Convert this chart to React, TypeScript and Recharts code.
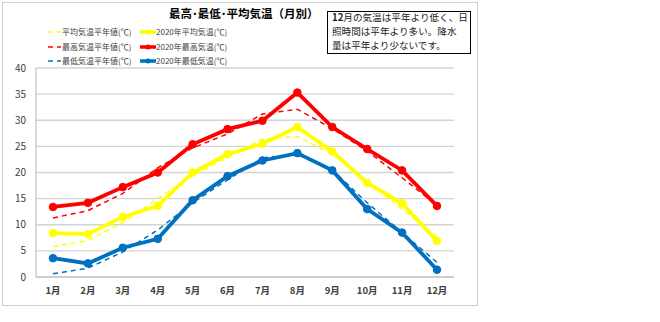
import React from 'react';
import { LineChart, Line, XAxis, YAxis, CartesianGrid } from 'recharts';

const months = ['1月', '2月', '3月', '4月', '5月', '6月', '7月', '8月', '9月', '10月', '11月', '12月'];
const avgNormal = [5.8, 7.0, 10.4, 15.0, 19.4, 22.9, 26.4, 26.9, 23.5, 18.3, 13.0, 7.7];
const avg2020 = [8.4, 8.2, 11.5, 13.6, 20.0, 23.5, 25.5, 28.7, 24.0, 18.0, 14.1, 6.9];
const maxNormal = [11.3, 12.7, 16.0, 20.9, 24.7, 27.4, 31.2, 32.1, 28.4, 24.1, 19.0, 13.7];
const max2020 = [13.4, 14.2, 17.2, 20.0, 25.4, 28.3, 29.9, 35.3, 28.7, 24.5, 20.4, 13.6];
const minNormal = [0.6, 1.7, 4.8, 9.0, 14.2, 18.6, 22.8, 23.4, 20.5, 14.2, 8.5, 2.8];
const min2020 = [3.6, 2.6, 5.6, 7.3, 14.7, 19.3, 22.3, 23.7, 20.4, 13.0, 8.5, 1.4];
const yTicks = [0, 5, 10, 15, 20, 25, 30, 35, 40];

const YELLOW = '#FFFF00';
const RED = '#FF0000';
const BLUE = '#0070C0';

const data = months.map((m, i) => ({
  month: m,
  avgNormal: avgNormal[i],
  avg2020: avg2020[i],
  maxNormal: maxNormal[i],
  max2020: max2020[i],
  minNormal: minNormal[i],
  min2020: min2020[i],
}));

const legendRows = [
  { color: YELLOW, normal: '平均気温平年値(℃)', actual: '2020年平均気温(℃)' },
  { color: RED, normal: '最高気温平年値(℃)', actual: '2020年最高気温(℃)' },
  { color: BLUE, normal: '最低気温平年値(℃)', actual: '2020年最低気温(℃)' },
];

const FONT = '"Noto Sans CJK JP", "Noto Sans", sans-serif';

export default function App() {
  return (
    <div style={{ position: 'absolute', left: 0, top: 0, width: 660, height: 322, background: '#fff', fontFamily: FONT }}>
      <div style={{ position: 'absolute', left: 2, top: 2, width: 474, height: 302, border: '1px solid #d0d0d0' }} />
      <LineChart width={660} height={322} data={data} margin={{ top: 68, right: 206, bottom: 15, left: 0 }}>
        <CartesianGrid horizontal={true} vertical={false} stroke="#d4d4d4" strokeWidth={1.3} />
        <XAxis
          dataKey="month"
          height={30}
          padding={{ left: 17, right: 17 }}
          axisLine={{ stroke: '#c8c8c8', strokeWidth: 1.3 }}
          tickLine={false}
          tickSize={6}
          tickMargin={4}
          tick={{ fontSize: 9.5, fill: '#404040', fontWeight: 'bold', fontFamily: FONT }}
          interval={0}
        />
        <YAxis
          width={36}
          domain={[0, 40]}
          ticks={yTicks}
          axisLine={{ stroke: '#c8c8c8', strokeWidth: 1.3 }}
          tickLine={false}
          tickSize={6}
          tickMargin={4}
          tick={{ fontSize: 10, fill: '#404040', fontFamily: FONT }}
        />
        <Line dataKey="avgNormal" stroke={YELLOW} strokeWidth={1.5} strokeDasharray="5 4" dot={false} isAnimationActive={false} />
        <Line dataKey="maxNormal" stroke={RED} strokeWidth={1.5} strokeDasharray="5 4" dot={false} isAnimationActive={false} />
        <Line dataKey="minNormal" stroke={BLUE} strokeWidth={1.5} strokeDasharray="5 4" dot={false} isAnimationActive={false} />
        <Line dataKey="avg2020" stroke={YELLOW} strokeWidth={3.8} dot={{ r: 3.8, fill: YELLOW, stroke: YELLOW, strokeWidth: 1 }} isAnimationActive={false} />
        <Line dataKey="max2020" stroke={RED} strokeWidth={3.8} dot={{ r: 3.8, fill: RED, stroke: RED, strokeWidth: 1 }} isAnimationActive={false} />
        <Line dataKey="min2020" stroke={BLUE} strokeWidth={3.8} dot={{ r: 3.8, fill: BLUE, stroke: BLUE, strokeWidth: 1 }} isAnimationActive={false} />
      </LineChart>
      <div style={{ position: 'absolute', left: 169, top: 5, fontSize: 11.5, fontWeight: 'bold', color: '#000', whiteSpace: 'nowrap' }}>
        最高･最低･平均気温（月別）
      </div>
      {legendRows.map((r, i) => (
        <React.Fragment key={i}>
          <svg style={{ position: 'absolute', left: 46, top: 27 + i * 14.5 }} width={16} height={10}>
            <line x1={2} y1={5} x2={15} y2={5} stroke={r.color} strokeWidth={1.5} strokeDasharray="5 4" />
          </svg>
          <div style={{ position: 'absolute', left: 62, top: 25 + i * 14.5, fontSize: 8, color: '#404040', whiteSpace: 'nowrap', lineHeight: '14px' }}>{r.normal}</div>
          <svg style={{ position: 'absolute', left: 139, top: 27 + i * 14.5 }} width={18} height={10}>
            <line x1={1} y1={5} x2={17} y2={5} stroke={r.color} strokeWidth={3.5} />
            <circle cx={9} cy={5} r={2.5} fill={r.color} />
          </svg>
          <div style={{ position: 'absolute', left: 156, top: 25 + i * 14.5, fontSize: 8, color: '#404040', whiteSpace: 'nowrap', lineHeight: '14px' }}>{r.actual}</div>
        </React.Fragment>
      ))}
      <div style={{ position: 'absolute', left: 327, top: 11, width: 138, height: 41, border: '1.5px solid #000', padding: '0 0 0 4px', fontSize: 9.6, color: '#222', whiteSpace: 'nowrap', overflow: 'hidden' }}>
        <div style={{ marginTop: -2, lineHeight: '14px' }}>
          <b>12</b>月の気温は平年より低く、日<br />照時間は平年より多い。降水<br />量は平年より少ないです。
        </div>
      </div>
    </div>
  );
}
